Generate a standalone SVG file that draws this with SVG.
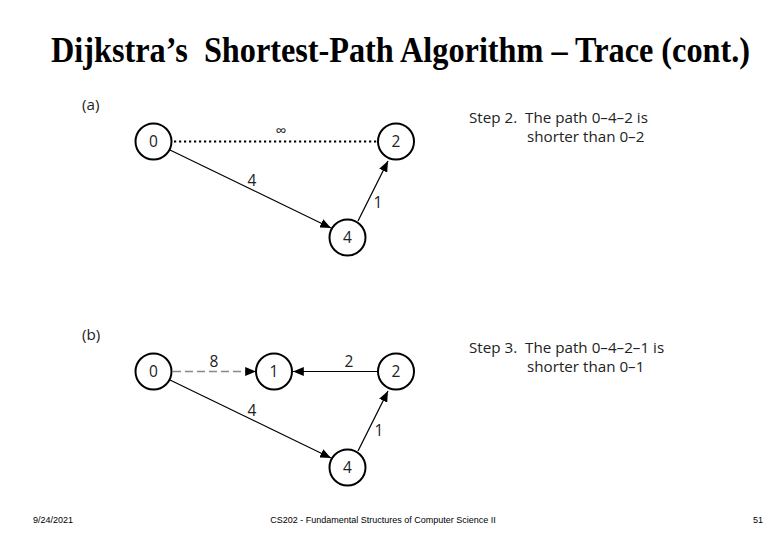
<svg xmlns="http://www.w3.org/2000/svg" width="780" height="540" viewBox="0 0 780 540">
<style>
.node circle{fill:#fff;stroke:#000;stroke-width:2}
.node text,.lbl{font-family:"Open Sans","Noto Sans","DejaVu Sans",sans-serif;font-size:15.5px;fill:#222;text-anchor:middle}
.edge{stroke:#000;stroke-width:1.2;fill:none}
.note{font-family:"Open Sans","Noto Sans","DejaVu Sans",sans-serif;font-size:15.2px;fill:#222;white-space:pre}
.foot{font-family:"Liberation Sans Narrow","Liberation Sans",sans-serif;font-size:9px;fill:#000}
</style>
<defs>
<marker id="ah" viewBox="0 0 12 10" refX="12" refY="5" markerWidth="11" markerHeight="9" markerUnits="userSpaceOnUse" orient="auto">
<path d="M0,0 L12,5 L0,10 z" fill="#000"/>
</marker>
</defs>
<rect width="780" height="540" fill="#fff"/>
<text transform="translate(51,62) scale(1,1.2)" x="0" y="0" font-family="Liberation Serif,serif" font-weight="bold" font-size="29" textLength="699" lengthAdjust="spacingAndGlyphs" style="white-space:pre">Dijkstra’s  Shortest-Path Algorithm – Trace (cont.)</text>

<text class="note" x="82" y="110">(a)</text>
<text class="note" x="82" y="340">(b)</text>

<g id="connectors">
<line x1="174" y1="141.5" x2="377" y2="141.5" style="stroke:#000;stroke-width:2.2;stroke-dasharray:2.2,2.8"/>
<line class="edge" x1="170" y1="150" x2="331" y2="228" marker-end="url(#ah)"/>
<line class="edge" x1="358" y1="221" x2="388" y2="161" marker-end="url(#ah)"/>
<line x1="173" y1="371.5" x2="256" y2="371.5" style="stroke:#888;stroke-width:1.5;stroke-dasharray:8,4;fill:none" marker-end="url(#ah)"/>
<line class="edge" x1="377" y1="371.5" x2="293" y2="371.5" marker-end="url(#ah)"/>
<line class="edge" x1="170" y1="380" x2="331" y2="458" marker-end="url(#ah)"/>
<line class="edge" x1="358" y1="451" x2="388" y2="391" marker-end="url(#ah)"/>
<text class="lbl" x="281" y="136">∞</text>
<text class="lbl" x="252" y="186">4</text>
<text class="lbl" x="378" y="208">1</text>
<text class="lbl" x="214" y="367">8</text>
<text class="lbl" x="349" y="367">2</text>
<text class="lbl" x="252" y="416">4</text>
<text class="lbl" x="379" y="436">1</text>
</g>

<g id="a-node0" class="node"><circle cx="153.5" cy="141.5" r="18"/><text x="153.5" y="147">0</text></g>
<g id="a-node2" class="node"><circle cx="396" cy="141.5" r="18"/><text x="396" y="147">2</text></g>
<g id="a-node4" class="node"><circle cx="347.5" cy="237.5" r="18"/><text x="347.5" y="243">4</text></g>

<g id="b-node0" class="node"><circle cx="153.5" cy="371.5" r="18"/><text x="153.5" y="377">0</text></g>
<g id="b-node1" class="node"><circle cx="274" cy="371.5" r="18"/><text x="274" y="377">1</text></g>
<g id="b-node2" class="node"><circle cx="396" cy="371.5" r="18"/><text x="396" y="377">2</text></g>
<g id="b-node4" class="node"><circle cx="347.5" cy="467.5" r="18"/><text x="347.5" y="473">4</text></g>

<g id="step2">
<text class="note" x="469" y="123">Step 2.  The path 0–4–2 is</text>
<text class="note" x="527" y="142">shorter than 0–2</text>
</g>
<g id="step3">
<text class="note" x="469" y="353">Step 3.  The path 0–4–2–1 is</text>
<text class="note" x="527" y="372">shorter than 0–1</text>
</g>

<text class="foot" x="33" y="523">9/24/2021</text>
<text class="foot" x="383" y="523" text-anchor="middle">CS202 - Fundamental Structures of Computer Science II</text>
<text class="foot" x="763" y="523" text-anchor="end">51</text>
</svg>
